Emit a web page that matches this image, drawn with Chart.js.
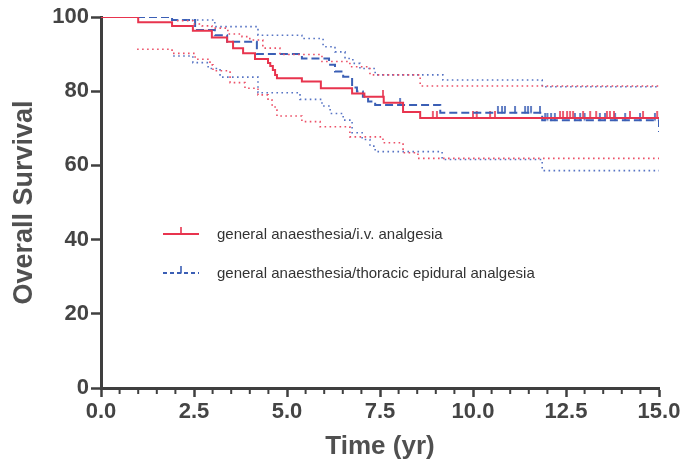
<!DOCTYPE html>
<html>
<head>
<meta charset="utf-8">
<script src="https://cdn.jsdelivr.net/npm/chart.js@4.4.1/dist/chart.umd.min.js"></script>
<style>
  html, body { margin: 0; padding: 0; background: #fff; }
</style>
</head>
<body>
<canvas id="myChart" width="684" height="470"></canvas>
<script>
  // Kaplan-Meier steps: time (yr) and survival (%) after each step
  const ivTime = [0, 1.0, 1.91, 2.47, 2.98, 3.39, 3.55, 3.82, 4.14, 4.49, 4.55, 4.62, 4.68, 4.73, 5.40, 5.91, 6.75, 7.08, 7.60, 8.12, 8.58, 15];
  const ivSurv = [100, 98.6, 97.6, 96.3, 94.5, 93.3, 91.6, 90.2, 88.7, 87.6, 86.8, 85.7, 84.4, 83.5, 82.6, 80.8, 79.4, 78.5, 76.9, 74.4, 72.8, 72.8];

  const tedTime = [0, 1.91, 2.53, 3.06, 3.39, 4.19, 5.40, 6.13, 6.29, 6.51, 6.75, 6.88, 7.04, 7.18, 7.37, 9.12, 11.86, 15];
  const tedSurv = [100, 99.2, 96.5, 95.1, 93.3, 90.0, 88.8, 87.1, 85.3, 83.9, 81.0, 79.9, 78.5, 77.2, 76.3, 74.2, 72.2, 69.0];

  // 95% confidence bands
  const ivUpTime = [2.04, 2.47, 2.72, 2.98, 3.41, 3.79, 4.00, 4.35, 4.81, 5.94, 6.69, 7.23, 8.58, 15];
  const ivUpSurv = [99.0, 98.1, 97.6, 97.0, 95.4, 94.7, 93.8, 91.6, 89.9, 88.0, 86.6, 84.4, 81.4, 81.4];
  const ivLoTime = [0.97, 1.91, 2.53, 2.93, 3.01, 3.47, 3.87, 4.22, 4.49, 4.60, 4.68, 4.73, 5.40, 5.89, 6.69, 7.58, 8.12, 8.52, 15];
  const ivLoSurv = [91.3, 90.2, 88.6, 87.1, 85.5, 82.3, 80.8, 79.0, 77.6, 76.3, 74.9, 73.3, 71.8, 70.4, 67.7, 66.1, 63.4, 61.9, 61.9];

  const tedUpTime = [2.04, 3.06, 4.22, 5.40, 5.97, 6.29, 6.56, 6.77, 6.96, 7.37, 9.19, 11.86, 15];
  const tedUpSurv = [99.2, 97.4, 95.1, 94.2, 92.0, 90.6, 88.8, 87.5, 86.1, 84.4, 83.0, 81.2, 81.2];
  const tedLoTime = [1.94, 2.47, 2.88, 3.20, 4.22, 5.35, 5.94, 6.16, 6.51, 6.75, 7.02, 7.23, 7.37, 9.17, 11.86, 15];
  const tedLoSurv = [89.5, 87.7, 86.1, 83.8, 79.6, 77.8, 76.0, 74.0, 72.2, 68.8, 67.0, 65.2, 63.7, 61.6, 58.6, 58.6];

  // censored observations (yr)
  const ivCensor = [7.58, 8.92, 9.03, 10.0, 10.1, 10.46, 10.59, 12.34, 12.42, 12.53, 12.61, 12.69, 12.96, 13.15, 13.31, 13.6, 13.68, 13.79, 14.22, 14.57, 14.95];
  const tedCensor = [8.04, 10.67, 10.78, 10.86, 11.13, 11.4, 11.48, 11.56, 11.8, 11.94, 12.0, 12.1, 12.2, 12.74, 12.88, 13.0, 13.41, 13.55, 13.82, 14.09, 14.49, 14.89];

  const xTicks = [0, 2.5, 5, 7.5, 10, 12.5, 15];
  const yTicks = [0, 20, 40, 60, 80, 100];

  const legendLabels = ['general anaesthesia/i.v. analgesia', 'general anaesthesia/thoracic epidural analgesia'];

  const RED = '#e8344e';
  const BLUE = '#3b5fb5';
  const RED_CI = '#ec5067';
  const BLUE_CI = '#5774c4';
  const AXIS = '#3f3f3f';
  const FONT = "'Liberation Sans', Arial, sans-serif";

  const pts = (ts, ss) => ts.map((t, i) => ({ x: t, y: ss[i] }));
  const survAt = (ts, ss, t) => {
    let v = ss[0];
    for (let i = 0; i < ts.length; i++) if (ts[i] <= t) v = ss[i];
    return v;
  };

  // little upward tick used for censor marks
  function tickImg(color) {
    const c = document.createElement('canvas');
    c.width = 4; c.height = 14;
    const g = c.getContext('2d');
    g.strokeStyle = color; g.lineWidth = 1.6;
    g.beginPath(); g.moveTo(2, 0); g.lineTo(2, 7.5); g.stroke();
    return c;
  }
  const redTick = tickImg(RED);
  const blueTick = tickImg(BLUE);

  const ciLine = (d, color) => ({
    data: d, borderColor: color, borderWidth: 1.6, borderDash: [1.6, 3.4],
    stepped: 'before', pointRadius: 0, fill: false
  });

  const data = {
    datasets: [
      ciLine(pts(ivUpTime, ivUpSurv), RED_CI),
      ciLine(pts(ivLoTime, ivLoSurv), RED_CI),
      ciLine(pts(tedUpTime, tedUpSurv), BLUE_CI),
      ciLine(pts(tedLoTime, tedLoSurv), BLUE_CI),
      {
        data: pts(ivTime, ivSurv), borderColor: RED, borderWidth: 2,
        stepped: 'before', pointRadius: 0
      },
      {
        data: pts(tedTime, tedSurv), borderColor: BLUE, borderWidth: 2,
        borderDash: [8, 4], stepped: 'before', pointRadius: 0
      },
      {
        data: ivCensor.map(t => ({ x: t, y: survAt(ivTime, ivSurv, t) })),
        showLine: false, pointStyle: redTick, pointRadius: 3
      },
      {
        data: tedCensor.map(t => ({ x: t, y: survAt(tedTime, tedSurv, t) })),
        showLine: false, pointStyle: blueTick, pointRadius: 3
      }
    ]
  };

  // minor ticks on the time axis + the in-plot legend
  const extras = {
    id: 'extras',
    afterDraw(chart) {
      const ctx = chart.ctx;
      const xs = chart.scales.x;
      const area = chart.chartArea;
      ctx.save();
      ctx.strokeStyle = AXIS;
      ctx.lineWidth = 2;
      for (let v = 0; v <= 15.001; v += 0.5) {
        if (xTicks.some(t => Math.abs(t - v) < 1e-6)) continue;
        const px = xs.getPixelForValue(v);
        ctx.beginPath(); ctx.moveTo(px, area.bottom); ctx.lineTo(px, area.bottom + 6); ctx.stroke();
      }

      const lx = area.left + 62, lw = 36;
      const rows = [
        { y: area.top + 217, color: RED, dash: [], img: redTick },
        { y: area.top + 256, color: BLUE, dash: [4, 3], img: blueTick }
      ];
      rows.forEach((r, i) => {
        ctx.strokeStyle = r.color;
        ctx.lineWidth = 2;
        ctx.setLineDash(r.dash);
        ctx.beginPath(); ctx.moveTo(lx, r.y); ctx.lineTo(lx + lw, r.y); ctx.stroke();
        ctx.setLineDash([]);
        ctx.drawImage(r.img, lx + lw / 2 - 2, r.y - 7);
        ctx.fillStyle = '#333';
        ctx.font = '15px ' + FONT;
        ctx.textBaseline = 'middle';
        ctx.fillText(legendLabels[i], lx + 54, r.y + 1);
      });
      ctx.restore();
    }
  };

  const config = {
    type: 'line',
    data,
    options: {
      responsive: false,
      animation: false,
      layout: { padding: { top: 17, right: 25, left: 0, bottom: 0 } },
      scales: {
        x: {
          type: 'linear', min: 0, max: 15,
          afterFit: s => { s.height = 82; },
          afterBuildTicks: s => { s.ticks = xTicks.map(v => ({ value: v })); },
          ticks: {
            padding: 2,
            color: '#444',
            font: { family: FONT, size: 22, weight: 'bold' },
            callback: v => Number(v).toFixed(1)
          },
          grid: { drawOnChartArea: false, drawTicks: true, tickLength: 9, tickWidth: 2.5, tickColor: AXIS },
          border: { display: true, color: AXIS, width: 3 },
          title: {
            display: true, text: 'Time (yr)', color: '#505050',
            font: { family: FONT, size: 26, weight: 'bold' },
            padding: { top: 0, bottom: 8 }
          }
        },
        y: {
          min: 0, max: 100,
          afterFit: s => { s.width = 101; },
          afterBuildTicks: s => { s.ticks = yTicks.map(v => ({ value: v })); },
          ticks: {
            padding: 2,
            color: '#444',
            font: { family: FONT, size: 22, weight: 'bold' }
          },
          grid: { drawOnChartArea: false, drawTicks: true, tickLength: 10, tickWidth: 2.5, tickColor: AXIS },
          border: { display: true, color: AXIS, width: 3 },
          title: {
            display: true, text: 'Overall Survival', color: '#505050',
            font: { family: FONT, size: 27, weight: 'bold' },
            padding: { top: 8, bottom: 0 }
          }
        }
      },
      plugins: {
        legend: { display: false },
        tooltip: { enabled: false }
      }
    },
    plugins: [extras]
  };

  const myChart = new Chart(document.getElementById('myChart'), config);
</script>
</body>
</html>
